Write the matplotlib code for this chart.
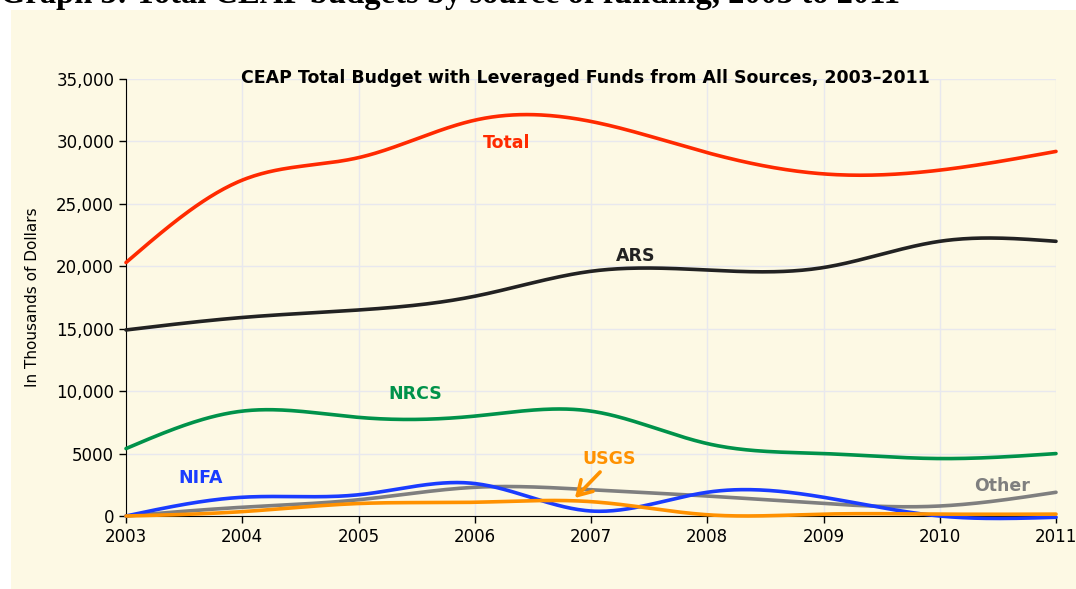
import numpy as np
import matplotlib.pyplot as plt
from matplotlib.patches import Rectangle

years = [2003, 2004, 2005, 2006, 2007, 2008, 2009, 2010, 2011]
total = [20300, 26900, 28700, 31700, 31600, 29100, 27400, 27700, 29200]
ars = [14900, 15900, 16500, 17600, 19600, 19700, 19900, 22000, 22000]
nrcs = [5400, 8400, 7900, 8000, 8400, 5800, 5000, 4600, 5000]
nifa = [0, 1500, 1700, 2600, 400, 1900, 1500, 0, -100]
other = [0, 700, 1300, 2300, 2100, 1600, 1000, 800, 1900]
usgs = [0, 350, 1000, 1100, 1150, 100, 150, 150, 150]

series = [
    ("Total", total, "#ff2a00"),
    ("ARS", ars, "#222222"),
    ("NRCS", nrcs, "#00924a"),
    ("Other", other, "#7f7f7f"),
    ("NIFA", nifa, "#1a3cff"),
    ("USGS", usgs, "#ff9100"),
]
label_pos = {
    "Total": (2006.27, 29870),
    "ARS": (2007.38, 20820),
    "NRCS": (2005.49, 9770),
    "NIFA": (2003.64, 3040),
    "USGS": (2007.16, 4565),
    "Other": (2010.54, 2400),
}
yticks = [0, 5000, 10000, 15000, 20000, 25000, 30000, 35000]
ytick_labels = ["0", "5000", "10,000", "15,000", "20,000", "25,000", "30,000", "35,000"]


def natural_spline(x, y, n=400):
    # plain natural cubic spline, just for the smooth look
    x = np.asarray(x, float)
    y = np.asarray(y, float)
    k = len(x)
    h = np.diff(x)
    A = np.zeros((k, k))
    b = np.zeros(k)
    A[0, 0] = A[-1, -1] = 1
    for i in range(1, k - 1):
        A[i, i - 1] = h[i - 1]
        A[i, i] = 2 * (h[i - 1] + h[i])
        A[i, i + 1] = h[i]
        b[i] = 6 * ((y[i + 1] - y[i]) / h[i] - (y[i] - y[i - 1]) / h[i - 1])
    M = np.linalg.solve(A, b)
    xs = np.linspace(x[0], x[-1], n)
    idx = np.clip(np.searchsorted(x, xs) - 1, 0, k - 2)
    x0, x1 = x[idx], x[idx + 1]
    hh = x1 - x0
    t0 = x1 - xs
    t1 = xs - x0
    ys = (M[idx] * t0 ** 3 / (6 * hh) + M[idx + 1] * t1 ** 3 / (6 * hh)
          + (y[idx] / hh - M[idx] * hh / 6) * t0
          + (y[idx + 1] / hh - M[idx + 1] * hh / 6) * t1)
    return xs, ys


plt.rcParams['font.family'] = ['DejaVu Sans']
cream = "#fdf9e4"

fig = plt.figure(figsize=(10.76, 5.89), dpi=100)
fig.patches.append(Rectangle((11 / 1076, 0), 1, 1 - 10 / 589, transform=fig.transFigure,
                             facecolor=cream, edgecolor="none", zorder=-10))
# page heading above the chart, mostly cut off in the source crop
fig.text(0.0, 1 - 3 / 589, "Graph 3: Total CEAP budgets by source of funding, 2003 to 2011",
         family="Liberation Serif", weight="bold", fontsize=23.5, va="baseline", ha="left")

ax = fig.add_axes([126 / 1076, 1 - 516 / 589, 930 / 1076, 437 / 589])
ax.set_facecolor("none")

for name, vals, color in series:
    xs, ys = natural_spline(years, vals)
    ax.plot(xs, ys, color=color, lw=2.6, solid_capstyle="round", zorder=3, clip_on=False)
    lx, ly = label_pos[name]
    ax.text(lx, ly, name, color=color, fontsize=12.5, weight="bold", ha="center", va="center")

ax.annotate("", xy=(2006.845, 1281), xytext=(2007.095, 3684),
            arrowprops=dict(arrowstyle="->,head_length=1.0,head_width=0.6", color="#ff9100", lw=2.6))

ax.set_xlim(2003, 2011)
ax.set_ylim(0, 35000)
ax.set_xticks(years)
ax.set_xticklabels([str(y) for y in years])
ax.set_yticks(yticks)
ax.set_yticklabels(ytick_labels)
ax.tick_params(labelsize=12, length=5, width=1, color="black")
ax.grid(True, color="#e8e8ee", lw=1)
ax.set_axisbelow(True)
for s in ["top", "right"]:
    ax.spines[s].set_visible(False)
ax.set_ylabel("In Thousands of Dollars", fontsize=11, labelpad=12)

fig.text(585 / 1076, 1 - 78 / 589, "CEAP Total Budget with Leveraged Funds from All Sources, 2003\u20132011",
         fontsize=12.5, weight="bold", ha="center", va="center")

fig.savefig("out.png", dpi=100)
